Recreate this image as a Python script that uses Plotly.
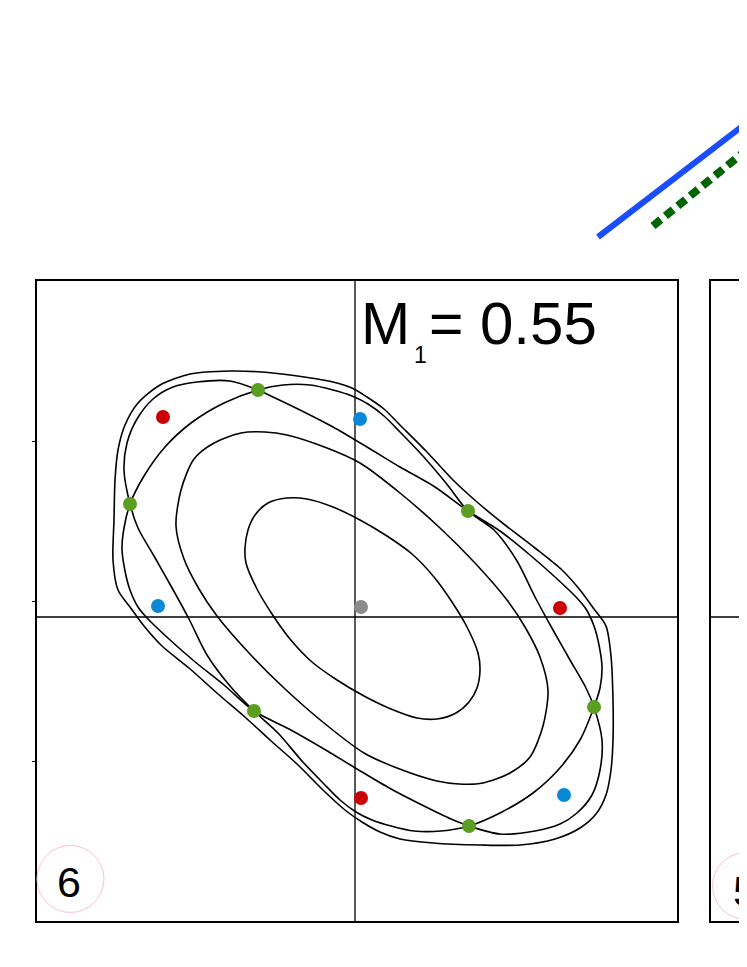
import plotly.graph_objects as go

# ---- panel 6 : phase portrait (panel units, x to the right, y downward) ----
inner_x = [245, 248, 255, 268, 287, 307, 333, 360, 387, 412, 434, 452, 467, 478, 480, 477, 469, 456, 437, 417, 391, 364, 337, 312, 290, 272, 257, 246, 245]
inner_y = [548, 530, 515, 503, 498, 499, 507, 520, 536, 554, 577, 602, 627, 653, 670, 688, 702, 713, 719, 718, 709, 696, 680, 662, 639, 614, 589, 563, 548]

middle_x = [176, 181, 194, 214, 241, 265, 287, 327, 360, 400, 440, 475, 507, 525, 540, 548, 543, 530, 510, 483, 459, 437, 397, 364, 324, 284, 249, 217, 199, 184, 176]
middle_y = [526, 490, 459, 443, 433, 432, 435, 448, 463, 493, 528, 563, 600, 627, 657, 690, 726, 757, 773, 783, 784, 781, 768, 753, 723, 688, 653, 616, 589, 559, 526]

# separatrix: two branches through the six hyperbolic points
sepA_x = [258, 230, 197, 173, 153, 137, 127, 124, 130, 138, 154, 171, 189, 207, 230, 254, 278, 302, 324, 340, 356, 372, 391, 414, 441, 469, 500, 533, 559, 580, 594, 600, 602, 599, 594, 586, 576, 555, 530, 500, 468, 435, 400, 367, 333, 300, 273, 258]
sepA_y = [390, 381, 382, 387, 399, 419, 443, 470, 504, 528, 556, 586, 619, 655, 686, 711, 733, 761, 784, 800, 812, 820, 826, 831, 831, 826, 813, 793, 769, 740, 707, 688, 667, 645, 626, 609, 597, 577, 555, 531, 511, 487, 467, 447, 427, 410, 397, 390]

sepB_x = [258, 224, 191, 165, 144, 130, 124, 122, 125, 130, 138, 148, 169, 194, 224, 254, 289, 324, 357, 391, 424, 451, 469, 500, 535, 560, 577, 592, 600, 602, 594, 586, 570, 553, 535, 517, 494, 468, 446, 422, 400, 384, 368, 352, 333, 310, 283, 258]
sepB_y = [390, 403, 423, 447, 476, 504, 528, 549, 571, 590, 607, 619, 639, 661, 685, 711, 729, 749, 769, 789, 806, 819, 826, 834, 831, 824, 813, 795, 770, 740, 707, 688, 660, 630, 597, 561, 530, 511, 483, 455, 432, 416, 404, 396, 390, 385, 385, 390]

outer_x = [113, 114, 115, 118, 125, 138, 160, 190, 230, 262, 290, 333, 352, 367, 384, 400, 427, 452, 477, 505, 535, 562, 580, 594, 606, 611, 613, 613, 611, 606, 596, 580, 555, 520, 480, 433, 400, 380, 362, 345, 324, 297, 270, 246, 218, 189, 162, 144, 130, 118, 113]
outer_y = [560, 520, 480, 450, 425, 403, 385, 374, 371, 372, 375, 382, 388, 397, 409, 425, 452, 479, 502, 525, 548, 570, 590, 609, 626, 656, 700, 740, 770, 795, 814, 828, 839, 845, 845, 843, 839, 832, 822, 810, 791, 764, 740, 718, 694, 668, 646, 626, 607, 590, 560]

# fixed points
green_x = [258, 130, 254, 469, 594, 468]
green_y = [390, 504, 711, 826, 707, 511]
red_x = [163, 560, 361]
red_y = [417, 608, 798]
blue_x = [360, 158, 564]
blue_y = [419, 606, 795]
origin_x = [361]
origin_y = [607]

cross_x = 355
cross_y = 617
y_ticks = [441, 601, 761]

# ---- decorations (page units) ----
blue_line_x = [598, 770]
blue_line_y = [237, 105]
green_line_x = [653, 770]
green_line_y = [226, 131]
ring_x = [70.5, 746]
ring_y = [879, 886]
label_text = ["6", "5"]
label_x = [69, 745]
label_y = [886, 895]
title_text = ["M", "1", "=", "0.55"]
title_x = [361, 414, 429, 480]
title_y = [329, 357, 329, 329]
title_size = [59, 23, 59, 60]

# page has an 8px body margin around the plot div
OFF = 8
W, H = 747 - OFF, 967 - OFF
FONT = "Liberation Sans, Arial, sans-serif"


def dom_x(a, b):
    return [(a - OFF) / W, min(1, (b - OFF) / W)]


def dom_y(top, bottom):
    return [(967 - bottom) / H, (967 - top) / H]


fig = go.Figure()

for xs, ys in [(inner_x, inner_y), (middle_x, middle_y), (sepA_x, sepA_y),
               (sepB_x, sepB_y), (outer_x, outer_y)]:
    fig.add_trace(go.Scatter(x=xs, y=ys, mode="lines",
                             line=dict(color="black", width=1.6, shape="spline", smoothing=0.8),
                             xaxis="x", yaxis="y"))

# crosshair lines
fig.add_trace(go.Scatter(x=[cross_x, cross_x], y=[281, 921], mode="lines",
                         line=dict(color="black", width=1.3), xaxis="x", yaxis="y"))
fig.add_trace(go.Scatter(x=[37, 677], y=[cross_y, cross_y], mode="lines",
                         line=dict(color="black", width=1.3), xaxis="x", yaxis="y"))
fig.add_trace(go.Scatter(x=[711, 747], y=[cross_y, cross_y], mode="lines",
                         line=dict(color="black", width=1.3), xaxis="x2", yaxis="y2"))

for xs, ys, col in [(red_x, red_y, "#cc0000"), (blue_x, blue_y, "#0a88d8"),
                    (green_x, green_y, "#5a9e22"), (origin_x, origin_y, "#8c8c8c")]:
    fig.add_trace(go.Scatter(x=xs, y=ys, mode="markers",
                             marker=dict(color=col, size=14), xaxis="x", yaxis="y"))

# overlay: diagonal legend lines, panel labels, title
fig.add_trace(go.Scatter(x=blue_line_x, y=blue_line_y, mode="lines",
                         line=dict(color="#1a4dff", width=6), xaxis="x3", yaxis="y3"))
fig.add_trace(go.Scatter(x=green_line_x, y=green_line_y, mode="lines",
                         line=dict(color="#006400", width=8, dash="10px,6px"),
                         xaxis="x3", yaxis="y3"))
fig.add_trace(go.Scatter(x=ring_x, y=ring_y, mode="markers",
                         marker=dict(symbol="circle-open", size=67, color="#ffbfd2",
                                     line=dict(width=1)),
                         xaxis="x3", yaxis="y3", cliponaxis=False))
fig.add_trace(go.Scatter(x=label_x, y=label_y, mode="text", text=label_text,
                         textposition="middle center",
                         textfont=dict(size=43, color="black", family=FONT),
                         xaxis="x3", yaxis="y3", cliponaxis=False))
fig.add_trace(go.Scatter(x=title_x, y=title_y, mode="text", text=title_text,
                         textposition="middle right",
                         textfont=dict(size=title_size, color="black", family=FONT),
                         xaxis="x3", yaxis="y3", cliponaxis=False))

ax_line = dict(showline=True, linecolor="black", linewidth=1.6, showgrid=False,
               zeroline=False, showticklabels=False)
fig.update_layout(
    width=W, height=H, margin=dict(l=0, r=0, t=0, b=0),
    paper_bgcolor="white", plot_bgcolor="rgba(0,0,0,0)", showlegend=False,
    xaxis=dict(domain=dom_x(37, 677), range=[37, 677], mirror=True, ticks="", **ax_line),
    yaxis=dict(domain=dom_y(281, 921), range=[921, 281], mirror=True,
               ticks="outside", ticklen=3, tickcolor="black", tickvals=y_ticks, **ax_line),
    xaxis2=dict(domain=dom_x(711, 747), range=[711, 747], mirror=True, ticks="",
                anchor="y2", **ax_line),
    yaxis2=dict(domain=dom_y(281, 921), range=[921, 281], ticks="",
                anchor="x2", **ax_line),
    xaxis3=dict(domain=[0, 1], range=[OFF, 747], visible=False, anchor="y3"),
    yaxis3=dict(domain=[0, 1], range=[967, OFF], visible=False, anchor="x3"),
)

fig.write_html("out.html")
